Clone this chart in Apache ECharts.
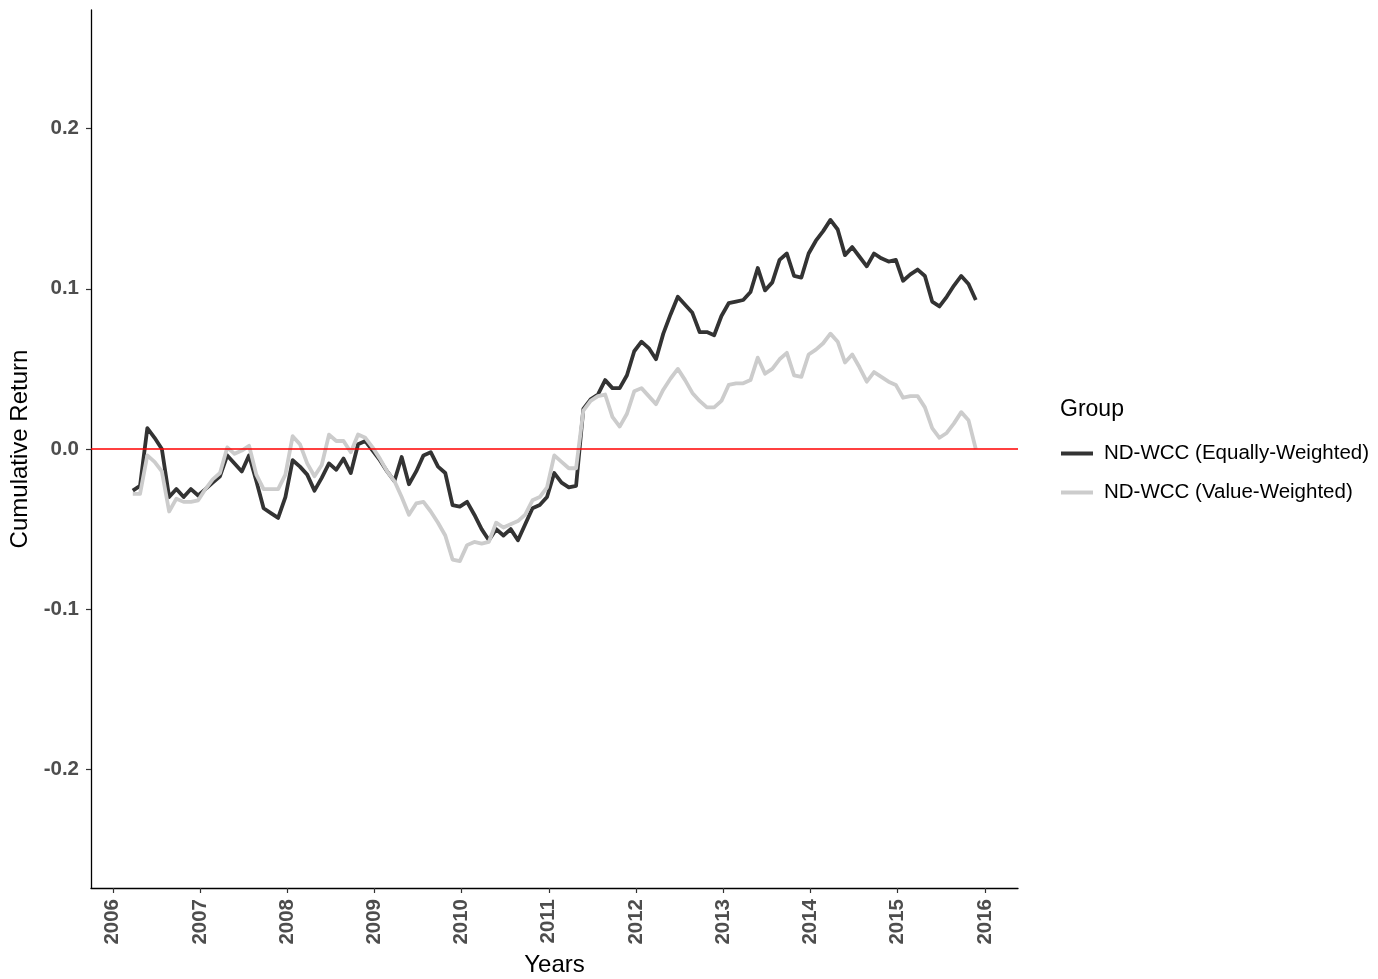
<!DOCTYPE html>
<html>
<head>
<meta charset="utf-8">
<title>Cumulative Return</title>
<script src="https://cdn.jsdelivr.net/npm/echarts@6/dist/echarts.min.js"></script>
<style>
  html, body { margin: 0; padding: 0; background: #ffffff; }
  #chart { width: 1378px; height: 979px; }
</style>
</head>
<body>
<div id="chart"></div>
<script>
// Monthly observations, first one in March 2006
const startYear = 2006;
const startMonth = 3;

// ND-WCC (Equally-Weighted) cumulative return
const equallyWeighted = [
  -0.026, -0.023, 0.013, 0.007, 0.000, -0.030, -0.025, -0.030, -0.025, -0.029,
  -0.025, -0.021, -0.017, -0.004, -0.009, -0.014, -0.004, -0.020, -0.037, -0.040,
  -0.043, -0.030, -0.007, -0.011, -0.016, -0.026, -0.018, -0.009, -0.013, -0.006,
  -0.015, 0.003, 0.005, -0.001, -0.007, -0.014, -0.020, -0.005, -0.022, -0.014,
  -0.004, -0.002, -0.011, -0.015, -0.035, -0.036, -0.033, -0.041, -0.050, -0.057,
  -0.050, -0.054, -0.050, -0.057, -0.047, -0.037, -0.035, -0.030, -0.015, -0.021,
  -0.024, -0.023, 0.025, 0.031, 0.034, 0.043, 0.038, 0.038, 0.046, 0.061,
  0.067, 0.063, 0.056, 0.072, 0.084, 0.095, 0.090, 0.085, 0.073, 0.073,
  0.071, 0.083, 0.091, 0.092, 0.093, 0.098, 0.113, 0.099, 0.104, 0.118,
  0.122, 0.108, 0.107, 0.122, 0.130, 0.136, 0.143, 0.137, 0.121, 0.126,
  0.120, 0.114, 0.122, 0.119, 0.117, 0.118, 0.105, 0.109, 0.112, 0.108,
  0.092, 0.089, 0.095, 0.102, 0.108, 0.103, 0.093
];

// ND-WCC (Value-Weighted) cumulative return
const valueWeighted = [
  -0.028, -0.028, -0.004, -0.008, -0.014, -0.039, -0.031, -0.033, -0.033, -0.032,
  -0.025, -0.019, -0.015, 0.001, -0.003, -0.001, 0.002, -0.016, -0.025, -0.025,
  -0.025, -0.016, 0.008, 0.003, -0.009, -0.017, -0.010, 0.009, 0.005, 0.005,
  -0.002, 0.009, 0.007, 0.001, -0.006, -0.014, -0.020, -0.030, -0.041, -0.034,
  -0.033, -0.039, -0.046, -0.054, -0.069, -0.070, -0.060, -0.058, -0.059, -0.058,
  -0.046, -0.049, -0.047, -0.045, -0.041, -0.032, -0.030, -0.024, -0.004, -0.008,
  -0.012, -0.012, 0.024, 0.030, 0.033, 0.034, 0.020, 0.014, 0.022, 0.036,
  0.038, 0.033, 0.028, 0.037, 0.044, 0.050, 0.043, 0.035, 0.030, 0.026,
  0.026, 0.030, 0.040, 0.041, 0.041, 0.043, 0.057, 0.047, 0.050, 0.056,
  0.060, 0.046, 0.045, 0.059, 0.062, 0.066, 0.072, 0.067, 0.054, 0.059,
  0.051, 0.042, 0.048, 0.045, 0.042, 0.040, 0.032, 0.033, 0.033, 0.026,
  0.013, 0.007, 0.010, 0.016, 0.023, 0.018, 0.000
];

const seriesNames = ['ND-WCC (Equally-Weighted)', 'ND-WCC (Value-Weighted)'];
const yearTicks = [2006, 2007, 2008, 2009, 2010, 2011, 2012, 2013, 2014, 2015, 2016];
const returnTicks = [-0.2, -0.1, 0.0, 0.1, 0.2];

// decimal year of each monthly observation (placed near the end of its month)
function monthPosition(i) {
  return startYear + (startMonth - 1 + i + 0.75) / 12;
}
function pairs(values) {
  return values.map((v, i) => [monthPosition(i), v]);
}

const FONT = '"Liberation Sans", Arial, sans-serif';
const chart = echarts.init(document.getElementById('chart'), null, { renderer: 'canvas' });

chart.setOption({
  backgroundColor: '#ffffff',
  animation: false,
  title: {
    text: 'Group',
    left: 1055,
    top: 393,
    textStyle: { fontFamily: FONT, fontSize: 23, fontWeight: 'normal', color: '#000000' }
  },
  legend: {
    orient: 'vertical',
    left: 1056,
    top: 437,
    icon: 'rect',
    itemWidth: 32,
    itemHeight: 4,
    itemGap: 16,
    data: seriesNames,
    textStyle: { fontFamily: FONT, fontSize: 20.5, color: '#000000', lineHeight: 23, padding: [0, 0, 0, 6] }
  },
  grid: { left: 91, right: 360, top: 10, bottom: 91, containLabel: false, outerBoundsMode: 'none' },
  xAxis: {
    type: 'value',
    min: 2005.75,
    max: 2016.38,
    name: 'Years',
    nameLocation: 'middle',
    nameGap: 65,
    nameTextStyle: { fontFamily: FONT, fontSize: 24, color: '#000000' },
    axisLine: { show: true, onZero: false, lineStyle: { color: '#000000', width: 1.3 } },
    axisTick: { show: true, length: 5, customValues: yearTicks, lineStyle: { color: '#333333', width: 1.2 } },
    axisLabel: {
      customValues: yearTicks,
      rotate: 90,
      margin: 11,
      fontFamily: FONT,
      fontSize: 20.5,
      fontWeight: 'bold',
      color: '#4d4d4d',
      formatter: v => String(Math.round(v))
    },
    splitLine: { show: false }
  },
  yAxis: {
    type: 'value',
    min: -0.274,
    max: 0.274,
    name: 'Cumulative Return',
    nameLocation: 'middle',
    nameGap: 50,
    nameTextStyle: { fontFamily: FONT, fontSize: 24, color: '#000000' },
    axisLine: { show: true, onZero: false, lineStyle: { color: '#000000', width: 1.3 } },
    axisTick: { show: true, length: 5, customValues: returnTicks, lineStyle: { color: '#333333', width: 1.2 } },
    axisLabel: {
      customValues: returnTicks,
      margin: 12,
      fontFamily: FONT,
      fontSize: 20.5,
      fontWeight: 'bold',
      color: '#4d4d4d',
      formatter: v => v.toFixed(1)
    },
    splitLine: { show: false }
  },
  series: [
    {
      name: seriesNames[0],
      type: 'line',
      data: pairs(equallyWeighted),
      showSymbol: false,
      color: '#333333',
      lineStyle: { color: '#333333', width: 3.8, join: 'round' },
      z: 3,
      markLine: {
        silent: true,
        symbol: 'none',
        label: { show: false },
        lineStyle: { color: '#ff0000', width: 1.5, type: 'solid' },
        data: [{ yAxis: 0 }]
      }
    },
    {
      name: seriesNames[1],
      type: 'line',
      data: pairs(valueWeighted),
      showSymbol: false,
      color: '#cccccc',
      lineStyle: { color: '#cccccc', width: 3.8, join: 'round' },
      z: 4
    }
  ]
});
</script>
</body>
</html>
